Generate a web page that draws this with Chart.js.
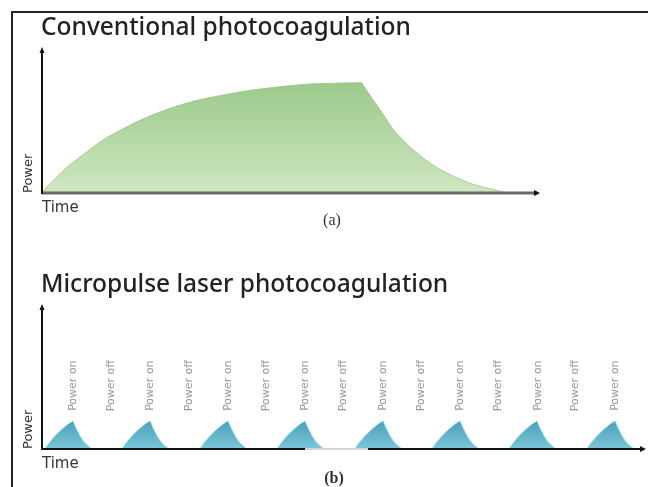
<!DOCTYPE html>
<html><head><meta charset="utf-8">
<script src="https://cdn.jsdelivr.net/npm/chart.js@4.4.1/dist/chart.umd.min.js"></script>
<style>
html,body{margin:0;padding:0;background:#fff;overflow:hidden;width:648px;height:487px;}
#frame{position:absolute;left:11px;top:11px;width:700px;height:600px;border-left:2px solid #222;border-top:2px solid #222;}
canvas{position:absolute;left:0;}
#c1{top:0}
#c2{top:240px}
</style></head><body>
<div id="frame"></div>
<canvas id="c1" width="648" height="240"></canvas>
<canvas id="c2" width="648" height="247"></canvas>
<script>
// ---- (a) Conventional photocoagulation: time / power ----
const convTime  = [0, 0.10, 0.24, 0.48, 0.82, 1.23, 1.65, 2.06, 2.48, 2.90, 3.31, 3.73, 4.14, 4.56, 4.98, 5.39, 5.81, 6.43, 6.46,
                   6.64, 6.85, 7.05, 7.26, 7.47, 7.72, 7.97, 8.30, 8.72, 9.13, 9.38, 10];
const convPower = [0, 0.42, 0.90, 1.70, 2.62, 3.66, 4.46, 5.15, 5.72, 6.19, 6.53, 6.81, 7.06, 7.24, 7.40, 7.52, 7.56, 7.61, 7.45,
                   6.53, 5.50, 4.46, 3.66, 2.97, 2.28, 1.70, 1.12, 0.55, 0.21, 0.02, 0];

// ---- (b) Micropulse laser photocoagulation: time / power ----
const pulseTime = [
  0,
  0.3, 0.7, 1.3, 2.0, 2.6, 3.1, 3.4, 3.8, 4.2, 4.6, 5.0,
  8.0, 8.4, 9.0, 9.7, 10.3, 10.8, 11.1, 11.5, 11.9, 12.3, 12.7,
  15.8, 16.2, 16.8, 17.5, 18.1, 18.6, 18.9, 19.3, 19.7, 20.1, 20.5,
  23.5, 23.9, 24.5, 25.2, 25.8, 26.3, 26.6, 27.0, 27.4, 27.8, 28.2,
  31.3, 31.7, 32.3, 33.0, 33.6, 34.1, 34.4, 34.8, 35.2, 35.6, 36.0,
  39.0, 39.4, 40.0, 40.7, 41.3, 41.8, 42.1, 42.5, 42.9, 43.3, 43.7,
  46.7, 47.1, 47.7, 48.4, 49.0, 49.5, 49.8, 50.2, 50.6, 51.0, 51.4,
  54.5, 54.9, 55.5, 56.2, 56.8, 57.3, 57.6, 58.0, 58.4, 58.8, 59.2,
  60.3
];
const pulsePower = [
  0,
  0, 0.41, 0.90, 1.38, 1.72, 1.94, 1.45, 0.90, 0.48, 0.21, 0,
  0, 0.41, 0.90, 1.38, 1.72, 1.94, 1.45, 0.90, 0.48, 0.21, 0,
  0, 0.41, 0.90, 1.38, 1.72, 1.94, 1.45, 0.90, 0.48, 0.21, 0,
  0, 0.41, 0.90, 1.38, 1.72, 1.94, 1.45, 0.90, 0.48, 0.21, 0,
  0, 0.41, 0.90, 1.38, 1.72, 1.94, 1.45, 0.90, 0.48, 0.21, 0,
  0, 0.41, 0.90, 1.38, 1.72, 1.94, 1.45, 0.90, 0.48, 0.21, 0,
  0, 0.41, 0.90, 1.38, 1.72, 1.94, 1.45, 0.90, 0.48, 0.21, 0,
  0, 0.41, 0.90, 1.38, 1.72, 1.94, 1.45, 0.90, 0.48, 0.21, 0,
  0
];
const powerOnTimes  = [2.8, 10.5, 18.3, 26.0, 33.8, 41.5, 49.3, 57.0];
const powerOffTimes = [6.6, 14.4, 22.1, 29.8, 37.6, 45.3, 53.0];

// ---- texts ----
const titleA = "Conventional photocoagulation";
const titleB = "Micropulse laser photocoagulation";
const yLabel = "Power";
const xLabel = "Time";
const captionA = "(a)";
const captionB = "(b)";
const onLabel = "Power on";
const offLabel = "Power off";

function pts(xs, ys){ return xs.map((x,i)=>({x:x, y:ys[i]})); }

const decor = {
  id: 'decor',
  afterDatasetsDraw(chart, args, o) {
    const {ctx, chartArea: a, scales} = chart;
    const sx = scales.x, sy = scales.y;
    const yb = sy.getPixelForValue(0);
    const x0 = a.left;
    ctx.save();
    // x axis
    ctx.lineCap = 'butt';
    ctx.strokeStyle = o.xAxisColor; ctx.lineWidth = o.xAxisWidth;
    ctx.beginPath(); ctx.moveTo(x0, yb); ctx.lineTo(a.right - 2, yb); ctx.stroke();
    if (o.gap) {
      ctx.strokeStyle = '#d4d4d4';
      ctx.beginPath(); ctx.moveTo(sx.getPixelForValue(o.gap[0]), yb); ctx.lineTo(sx.getPixelForValue(o.gap[1]), yb); ctx.stroke();
    }
    ctx.fillStyle = '#111';
    ctx.beginPath(); ctx.moveTo(a.right + 1, yb); ctx.lineTo(a.right - 5, yb - 3); ctx.lineTo(a.right - 5, yb + 3); ctx.closePath(); ctx.fill();
    // y axis
    ctx.strokeStyle = '#111'; ctx.lineWidth = 2;
    ctx.beginPath(); ctx.moveTo(x0, yb + 1); ctx.lineTo(x0, a.top + 3); ctx.stroke();
    ctx.beginPath(); ctx.moveTo(x0, a.top - 1); ctx.lineTo(x0 - 2.5, a.top + 5); ctx.lineTo(x0 + 2.5, a.top + 5); ctx.closePath(); ctx.fill();

    // heading
    ctx.fillStyle = '#222';
    ctx.font = '500 24.5px "Noto Sans"';
    ctx.textAlign = 'left'; ctx.textBaseline = 'alphabetic';
    ctx.fillText(o.title, x0 - 1, a.top - 13);
    // Time
    ctx.fillStyle = '#333';
    ctx.font = '15px "DejaVu Sans"';
    ctx.fillText(xLabel, x0, yb + 19);
    // Power (rotated)
    ctx.save();
    ctx.translate(x0 - 10, yb);
    ctx.rotate(-Math.PI / 2);
    ctx.font = '13px "DejaVu Sans"';
    ctx.textAlign = 'left'; ctx.textBaseline = 'alphabetic';
    ctx.fillText(yLabel, 0, 0);
    ctx.restore();
    // caption
    ctx.fillStyle = '#333';
    ctx.font = o.captionFont;
    ctx.textAlign = 'center';
    ctx.fillText(o.caption, o.captionX, yb + o.captionDy);
    // power on/off labels
    if (o.onTimes) {
      ctx.fillStyle = '#999';
      ctx.font = '11px "DejaVu Sans"';
      const ly = sy.getPixelForValue(o.labelY);
      const draw = (t, s) => {
        ctx.save();
        ctx.translate(sx.getPixelForValue(t) + 3, ly);
        ctx.rotate(-Math.PI / 2);
        ctx.textAlign = 'center'; ctx.textBaseline = 'middle';
        ctx.fillText(s, 0, 0);
        ctx.restore();
      };
      o.onTimes.forEach(t => draw(t, onLabel));
      o.offTimes.forEach(t => draw(t, offLabel));
    }
    ctx.restore();
  }
};

function gradFill(top, bottom, yTopVal) {
  return (context) => {
    const {ctx, chartArea, scales} = context.chart;
    if (!chartArea) return top;
    const g = ctx.createLinearGradient(0, scales.y.getPixelForValue(yTopVal), 0, chartArea.bottom);
    g.addColorStop(0, top); g.addColorStop(1, bottom);
    return g;
  };
}

function baseOptions(pad, xmax, decorOpts) {
  return {
    responsive: false, animation: false, devicePixelRatio: 1,
    layout: { padding: pad },
    plugins: { legend: { display: false }, tooltip: { enabled: false }, title: { display: false }, decor: decorOpts },
    scales: {
      x: { type: 'linear', min: 0, max: xmax, display: false },
      y: { type: 'linear', min: 0, max: 10, display: false }
    },
    elements: { point: { radius: 0 } }
  };
}

new Chart(document.getElementById('c1'), {
  type: 'line',
  data: { datasets: [{
    label: yLabel,
    data: pts(convTime, convPower),
    fill: 'origin', cubicInterpolationMode: 'monotone',
    borderColor: 'rgba(150,198,130,0.8)', borderWidth: 1,
    backgroundColor: gradFill('#9cc98a', '#cfe7c2', 7.6)
  }]},
  options: baseOptions({left: 42, top: 48, right: 109, bottom: 47}, 10,
    { title: titleA, caption: captionA, captionX: 332, captionDy: 32, captionFont: '16px "Liberation Serif"',
      xAxisColor: '#6a6a6a', xAxisWidth: 3 }),
  plugins: [decor]
});

new Chart(document.getElementById('c2'), {
  type: 'line',
  data: { datasets: [{
    label: yLabel,
    data: pts(pulseTime, pulsePower),
    fill: 'origin', tension: 0,
    borderColor: 'rgba(130,215,235,0.9)', borderWidth: 1,
    backgroundColor: gradFill('#4b9fba', '#7cc6d8', 1.94)
  }]},
  options: baseOptions({left: 42, top: 65, right: 3, bottom: 38}, 60.3,
    { title: titleB, caption: captionB, captionX: 334, captionDy: 34, captionFont: 'bold 16px "Liberation Serif"',
      xAxisColor: '#111', xAxisWidth: 2, gap: [26.3, 32.6],
      onTimes: powerOnTimes, offTimes: powerOffTimes, labelY: 4.4 }),
  plugins: [decor]
});
</script>
</body></html>
